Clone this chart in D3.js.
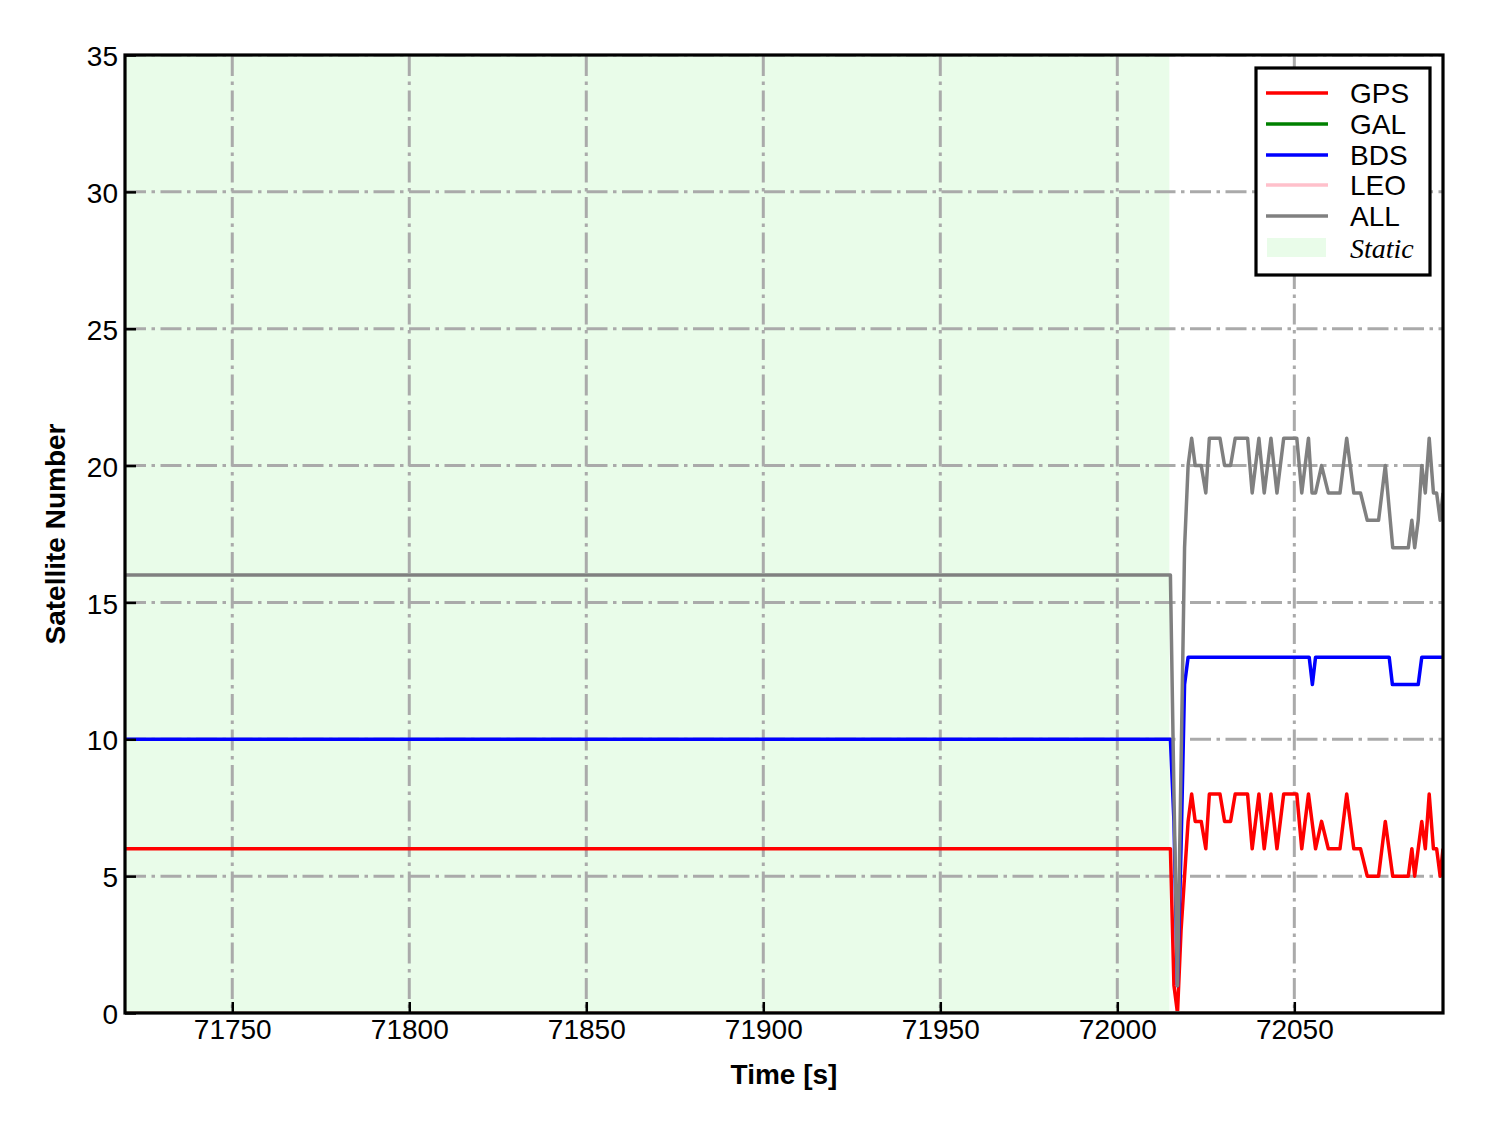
<!DOCTYPE html>
<html>
<head>
<meta charset="utf-8">
<script src="https://cdn.jsdelivr.net/npm/d3@7"></script>
<style>
  html, body { margin: 0; padding: 0; background: #ffffff; }
  svg { display: block; }
</style>
</head>
<body>
<svg id="chart" width="1488" height="1133"></svg>
<script>
// ---------------- DATA ----------------
const xTicks = [71750, 71800, 71850, 71900, 71950, 72000, 72050];
const yTicks = [0, 5, 10, 15, 20, 25, 30, 35];
const xDomain = [71719.7, 72092];
const yDomain = [0, 35];
const staticRange = [71719.7, 72014.7];

// shared epochs for GPS and ALL
const gpsAllTime = [71720, 72015, 72016, 72017, 72018, 72019, 72020, 72021, 72022, 72023.7,
  72025, 72026, 72029, 72030.3, 72032, 72033.3, 72036.8, 72038.1, 72040, 72041.5,
  72043.4, 72045.1, 72047, 72050.7, 72052.1, 72054, 72055, 72056, 72057.7, 72059.6,
  72062.9, 72064.8, 72066.8, 72068.7, 72070.6, 72073.8, 72075.7, 72077.8, 72082.2, 72083.2,
  72084, 72085, 72086, 72087, 72088.1, 72089.3, 72090.2, 72091.2, 72092];
const gpsValues = [6, 6, 1, 0, 3, 5, 7, 8, 7, 7,
  6, 8, 8, 7, 7, 8, 8, 6, 8, 6,
  8, 6, 8, 8, 6, 8, 7, 6, 7, 6,
  6, 8, 6, 6, 5, 5, 7, 5, 5, 6,
  5, 6, 7, 6, 8, 6, 6, 5, 6];
const allValues = [16, 16, 8, 1, 9, 17, 20, 21, 20, 20,
  19, 21, 21, 20, 20, 21, 21, 19, 21, 19,
  21, 19, 21, 21, 19, 21, 19, 19, 20, 19,
  19, 21, 19, 19, 18, 18, 20, 17, 17, 18,
  17, 18, 20, 19, 21, 19, 19, 18, 19];

const bdsTime = [71720, 72015, 72016, 72017, 72018, 72019, 72020, 72054.2, 72055.1, 72056,
  72076.8, 72077.7, 72085, 72086, 72092];
const bdsValues = [10, 10, 7, 1, 6, 12, 13, 13, 12, 13, 13, 12, 12, 13, 13];

const galTime = [71720, 72092];
const galValues = [0, 0];
const leoTime = [71720, 72092];
const leoValues = [0, 0];

const seriesNames = ["GPS", "GAL", "BDS", "LEO", "ALL"];
const seriesColors = ["#ff0000", "#008000", "#0000ff", "#ffc0cb", "#808080"];
const staticLabel = "Static";
const xLabel = "Time [s]";
const yLabel = "Satellite Number";

// ---------------- LAYOUT ----------------
const L = 125, R = 1443, T = 55, B = 1013;
const font = "'Liberation Sans', Arial, Helvetica, sans-serif";
const staticColor = "#e9fce9";
const gridColor = "#aaaaaa";

const svg = d3.select("#chart");
svg.append("rect").attr("width", 1488).attr("height", 1133).attr("fill", "#fff");

const x = d3.scaleLinear().domain(xDomain).range([L, R]);
const y = d3.scaleLinear().domain(yDomain).range([B, T]);

svg.append("defs").append("clipPath").attr("id", "plotclip")
  .append("rect").attr("x", L).attr("y", T).attr("width", R - L).attr("height", B - T);

const plot = svg.append("g").attr("clip-path", "url(#plotclip)");

// static shading
plot.append("rect")
  .attr("x", x(staticRange[0])).attr("y", T)
  .attr("width", x(staticRange[1]) - x(staticRange[0]))
  .attr("height", B - T)
  .attr("fill", staticColor);

// grid
const dash = "21,5.5,3.5,5.5";
plot.append("g").selectAll("line.vg").data(xTicks).join("line")
  .attr("x1", d => x(d)).attr("x2", d => x(d)).attr("y1", T).attr("y2", B)
  .attr("stroke", gridColor).attr("stroke-width", 3).attr("stroke-dasharray", dash);
plot.append("g").selectAll("line.hg").data(yTicks).join("line")
  .attr("x1", L).attr("x2", R).attr("y1", d => y(d)).attr("y2", d => y(d))
  .attr("stroke", gridColor).attr("stroke-width", 3).attr("stroke-dasharray", dash);

// lines
const lineGen = d3.line().x(d => x(d[0])).y(d => y(d[1]));
const zip = (a, b) => a.map((t, i) => [t, b[i]]);
const seriesData = [
  zip(gpsAllTime, gpsValues),
  zip(galTime, galValues),
  zip(bdsTime, bdsValues),
  zip(leoTime, leoValues),
  zip(gpsAllTime, allValues)
];
seriesData.forEach((d, i) => {
  plot.append("path").datum(d)
    .attr("d", lineGen)
    .attr("fill", "none")
    .attr("stroke", seriesColors[i])
    .attr("stroke-width", 3.5)
    .attr("stroke-linejoin", "round");
});

// frame
svg.append("rect").attr("x", L).attr("y", T).attr("width", R - L).attr("height", B - T)
  .attr("fill", "none").attr("stroke", "#000").attr("stroke-width", 3.2);

// axes
const xAxis = d3.axisBottom(x).tickValues(xTicks).tickFormat(d3.format("d"))
  .tickSizeInner(-11).tickSizeOuter(0).tickPadding(6);
const gx = svg.append("g").attr("transform", `translate(0,${B})`).call(xAxis);
gx.select(".domain").remove();
gx.selectAll(".tick line").attr("stroke", "#000").attr("stroke-width", 2.5);
gx.selectAll(".tick text").attr("font-family", font).attr("font-size", 28).attr("fill", "#000");

const yAxis = d3.axisLeft(y).tickValues(yTicks).tickFormat(d3.format("d"))
  .tickSizeInner(-11).tickSizeOuter(0).tickPadding(7);
const gy = svg.append("g").attr("transform", `translate(${L},0)`).call(yAxis);
gy.select(".domain").remove();
gy.selectAll(".tick line").attr("stroke", "#000").attr("stroke-width", 2.5);
gy.selectAll(".tick text").attr("font-family", font).attr("font-size", 28).attr("fill", "#000")
  .attr("dy", "0.38em");

// axis labels
svg.append("text").attr("x", (L + R) / 2).attr("y", 1084)
  .attr("text-anchor", "middle").attr("font-family", font).attr("font-size", 28)
  .attr("font-weight", "bold").text(xLabel);
svg.append("text")
  .attr("transform", `translate(65,${(T + B) / 2}) rotate(-90)`)
  .attr("text-anchor", "middle").attr("font-family", font).attr("font-size", 28)
  .attr("font-weight", "bold").text(yLabel);

// legend
const lg = svg.append("g");
lg.append("rect").attr("x", 1256).attr("y", 68).attr("width", 174).attr("height", 207)
  .attr("fill", "#fff").attr("stroke", "#000").attr("stroke-width", 3.2);
const rowY = [93, 124, 155, 185, 216];
seriesNames.forEach((name, i) => {
  lg.append("line").attr("x1", 1266).attr("x2", 1328).attr("y1", rowY[i]).attr("y2", rowY[i])
    .attr("stroke", seriesColors[i]).attr("stroke-width", 3.5);
  lg.append("text").attr("x", 1350).attr("y", rowY[i]).attr("dy", "0.36em")
    .attr("font-family", font).attr("font-size", 28).attr("fill", "#000").text(name);
});
lg.append("rect").attr("x", 1267).attr("y", 238).attr("width", 59).attr("height", 19)
  .attr("fill", staticColor);
lg.append("text").attr("x", 1350).attr("y", 248).attr("dy", "0.36em")
  .attr("font-family", "'Liberation Serif', 'Times New Roman', serif")
  .attr("font-style", "italic").attr("font-size", 28).attr("fill", "#000").text(staticLabel);
</script>
</body>
</html>
